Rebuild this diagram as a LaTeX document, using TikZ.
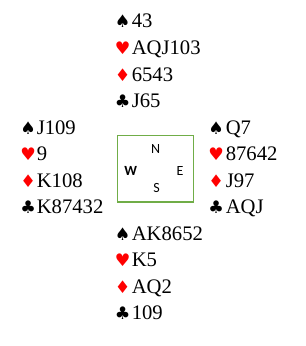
\documentclass[tikz,border=0pt]{standalone}
\usepackage{fontspec}
\setmainfont{Liberation Serif}
\newfontfamily\suitfont{DejaVu Sans}
\newfontfamily\compassfont{Carlito}
\definecolor{boxgreen}{RGB}{112,173,71}
\definecolor{suitred}{RGB}{255,0,0}
\tikzset{
  suit/.style={anchor=base west, inner sep=0pt, font=\suitfont\fontsize{13}{13}\selectfont},
  cards/.style={anchor=base west, inner sep=0pt, font=\rmfamily\fontsize{15.5}{15.5}\selectfont},
  compass/.style={inner sep=0pt, font=\compassfont\fontsize{10.5}{10.5}\selectfont}
}
\begin{document}
\begin{tikzpicture}[x=0.75pt, y=-0.75pt]
	\useasboundingbox (0,0) rectangle (305,346);
	
	% North
	\foreach \s/\c/\t [count=\i] in {♠/black/43, ♥/suitred/AQJ103, ♦/suitred/6543, ♣/black/J65} {
		\node[suit, text=\c] (N-s\i) at (114.5, {28+(\i-1)*26.6}) {\s};
		\node[cards] (N-c\i) at (131.5, {28+(\i-1)*26.6}) {\t};
	}
	
	% West
	\foreach \s/\c/\t [count=\i] in {♠/black/J109, ♥/suitred/9, ♦/suitred/K108, ♣/black/K87432} {
		\node[suit, text=\c] (W-s\i) at (20, {134+(\i-1)*26.6}) {\s};
		\node[cards] (W-c\i) at (36.5, {134+(\i-1)*26.6}) {\t};
	}
	
	% East
	\foreach \s/\c/\t [count=\i] in {♠/black/Q7, ♥/suitred/87642, ♦/suitred/J97, ♣/black/AQJ} {
		\node[suit, text=\c] (E-s\i) at (208, {134+(\i-1)*26.6}) {\s};
		\node[cards] (E-c\i) at (225.5, {134+(\i-1)*26.6}) {\t};
	}
	
	% South
	\foreach \s/\c/\t [count=\i] in {♠/black/AK8652, ♥/suitred/K5, ♦/suitred/AQ2, ♣/black/109} {
		\node[suit, text=\c] (S-s\i) at (114.5, {240+(\i-1)*26.6}) {\s};
		\node[cards] (S-c\i) at (131.5, {240+(\i-1)*26.6}) {\t};
	}
	
	% Table
	\node[draw=boxgreen, line width=1pt, minimum width=57pt, minimum height=50pt, inner sep=0pt] (table) at (155.3, 168.5) {};
	\node[compass] (north) at (155.7, 149.3) {N};
	\node[compass] (west) at (130.7, 170.7) {\bfseries W};
	\node[compass] (east) at (180, 170.7) {E};
	\node[compass] (south) at (156.5, 188.3) {S};
\end{tikzpicture}
\end{document}
